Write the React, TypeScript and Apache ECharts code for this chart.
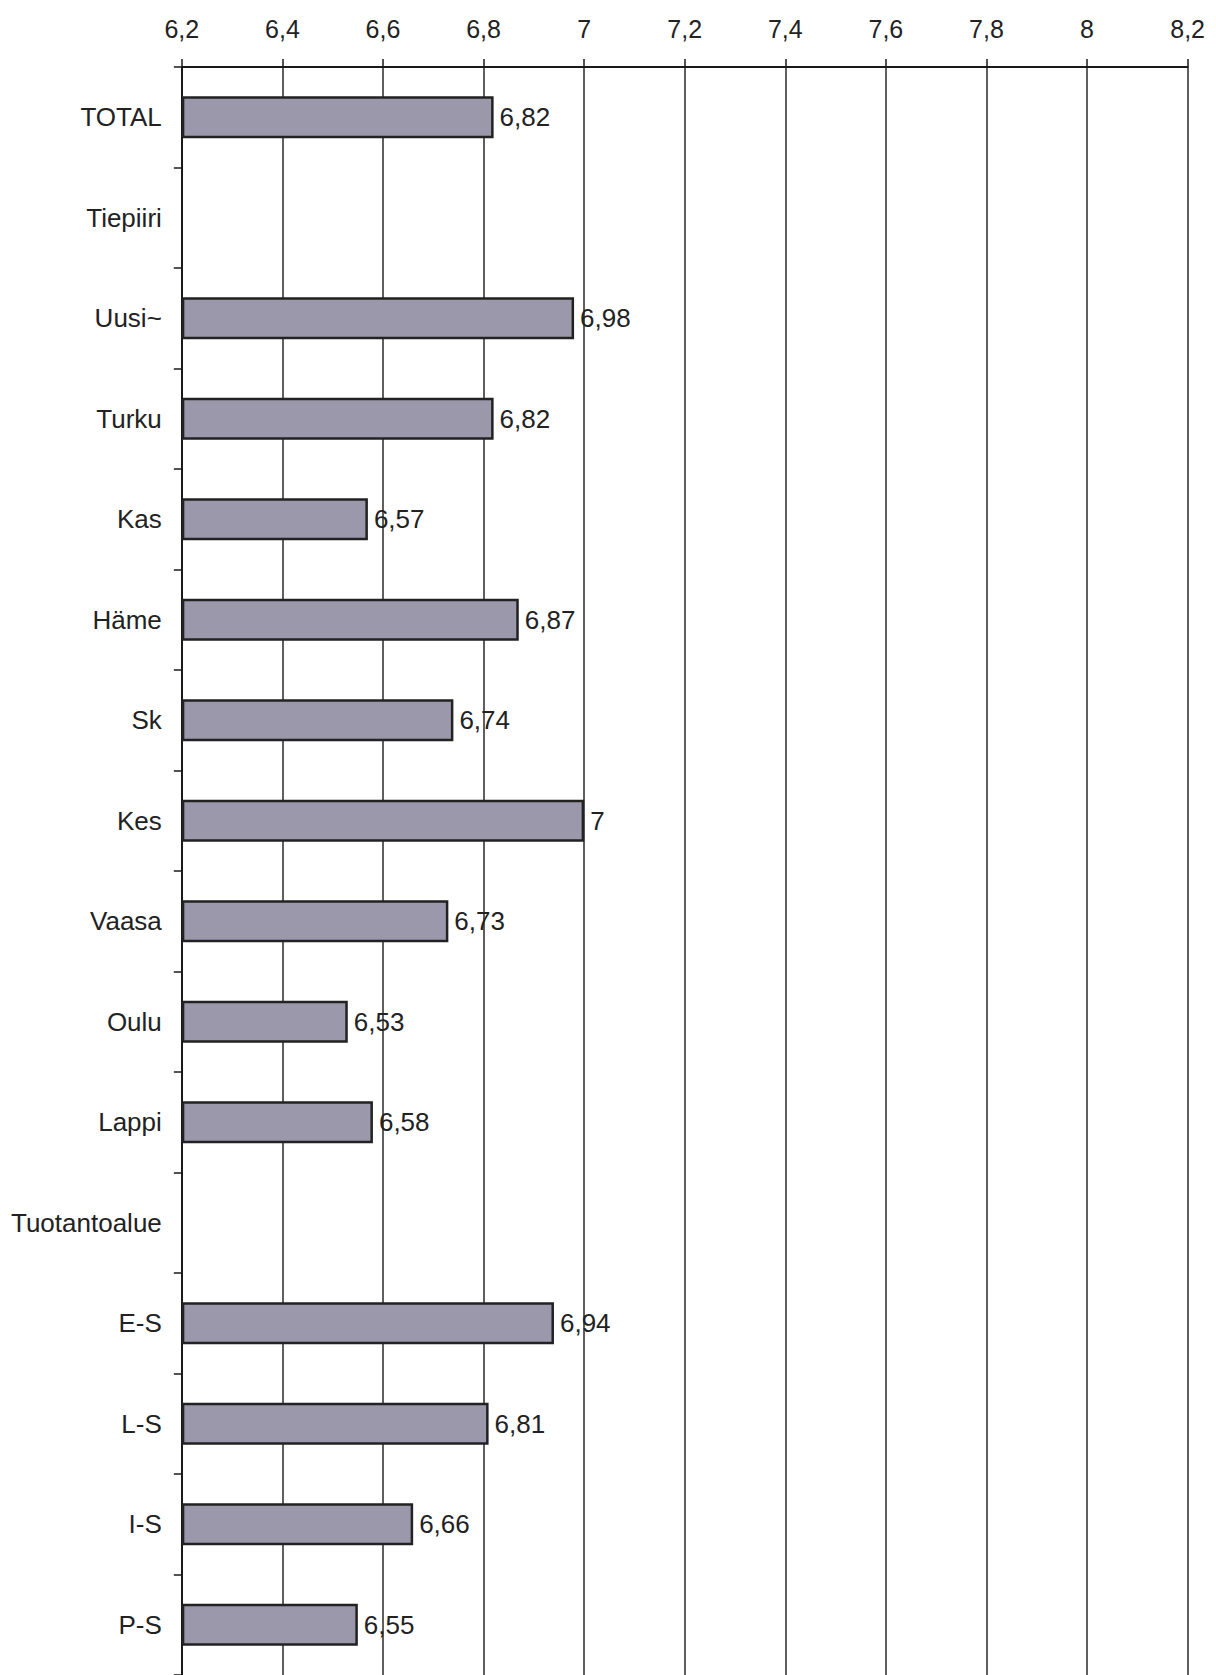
import React, { useEffect, useRef } from "react";
import * as echarts from "echarts";

const categories = [
  "TOTAL", "Tiepiiri", "Uusi~", "Turku", "Kas", "Häme", "Sk", "Kes",
  "Vaasa", "Oulu", "Lappi", "Tuotantoalue", "E-S", "L-S", "I-S", "P-S",
];
const values: (number | null)[] = [
  6.82, null, 6.98, 6.82, 6.57, 6.87, 6.74, 7,
  6.73, 6.53, 6.58, null, 6.94, 6.81, 6.66, 6.55,
];
const axisMin = 6.2;
const axisMax = 8.2;
const axisStep = 0.2;

const fmt = (v: number) => String(+v.toFixed(2)).replace(".", ",");

export default function App() {
  const ref = useRef<HTMLDivElement>(null);
  useEffect(() => {
    if (!ref.current) return;
    const chart = echarts.init(ref.current, null, { renderer: "svg" });
    const font = "'Liberation Sans', Arial, Helvetica, sans-serif";
    chart.setOption({
      animation: false,
      backgroundColor: "#ffffff",
      grid: { left: 170, right: 17, top: 59, height: 1611, containLabel: false },
      xAxis: {
        type: "value",
        position: "top",
        min: axisMin,
        max: axisMax,
        interval: axisStep,
        startValue: axisMin,
        axisLine: { show: true, lineStyle: { color: "#1a1a1a", width: 2 } },
        axisTick: { show: true, length: 8, lineStyle: { color: "#1a1a1a", width: 1.5 } },
        axisLabel: {
          margin: 26,
          fontSize: 25,
          color: "#222222",
          fontFamily: font,
          formatter: (v: number) => fmt(v),
        },
        splitLine: { show: true, lineStyle: { color: "#2a2a2a", width: 1.5 } },
      },
      yAxis: {
        type: "category",
        data: categories,
        inverse: true,
        axisLine: { show: true, lineStyle: { color: "#1a1a1a", width: 2 } },
        axisTick: { show: true, length: 8, lineStyle: { color: "#1a1a1a", width: 1.5 } },
        axisLabel: {
          margin: 20,
          fontSize: 26,
          color: "#222222",
          fontFamily: font,
        },
        splitLine: { show: false },
      },
      series: [
        {
          type: "bar",
          data: values.map((v) => (v === null ? "-" : v)),
          barWidth: 42,
          itemStyle: { color: "#9a98aa", borderColor: "#222222", borderWidth: 2.5 },
          label: {
            show: true,
            position: "right",
            distance: 6,
            fontSize: 26,
            color: "#222222",
            fontFamily: font,
            formatter: (p: any) => fmt(p.value),
          },
        },
      ],
    });
    return () => chart.dispose();
  }, []);
  return <div ref={ref} style={{ width: 1200, height: 1667 }} />;
}
